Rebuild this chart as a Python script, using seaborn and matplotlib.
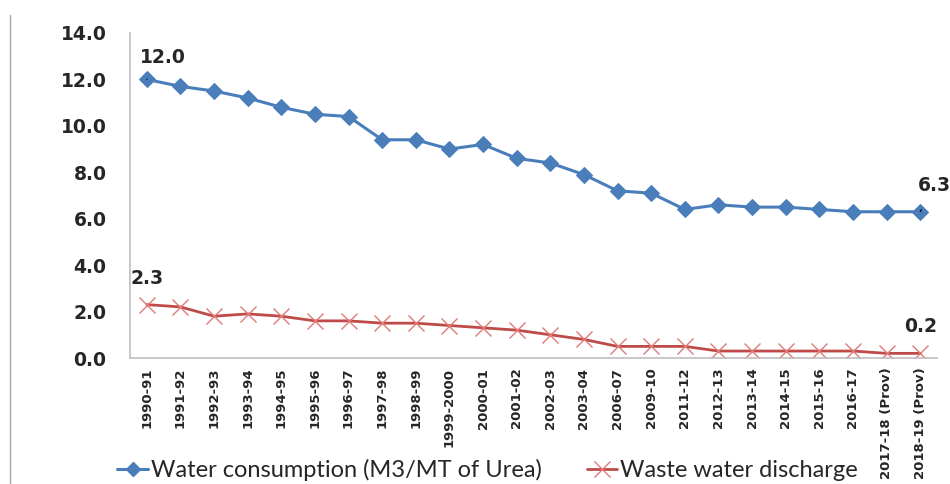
import matplotlib
matplotlib.use("Agg")
import matplotlib.pyplot as plt
import seaborn as sns
import pandas as pd
from matplotlib.lines import Line2D

years = ["1990-91", "1991-92", "1992-93", "1993-94", "1994-95", "1995-96", "1996-97",
         "1997-98", "1998-99", "1999-2000", "2000-01", "2001-02", "2002-03", "2003-04",
         "2006-07", "2009-10", "2011-12", "2012-13", "2013-14", "2014-15", "2015-16",
         "2016-17", "2017-18 (Prov)", "2018-19 (Prov)"]
water_consumption = [12.0, 11.7, 11.5, 11.2, 10.8, 10.5, 10.4, 9.4, 9.4, 9.0, 9.2, 8.6,
                     8.4, 7.9, 7.2, 7.1, 6.4, 6.6, 6.5, 6.5, 6.4, 6.3, 6.3, 6.3]
waste_water = [2.3, 2.2, 1.8, 1.9, 1.8, 1.6, 1.6, 1.5, 1.5, 1.4, 1.3, 1.2,
               1.0, 0.8, 0.5, 0.5, 0.5, 0.3, 0.3, 0.3, 0.3, 0.3, 0.2, 0.2]
y_ticks = [0.0, 2.0, 4.0, 6.0, 8.0, 10.0, 12.0, 14.0]
series_names = ["Water consumption (M3/MT of Urea)", "Waste water discharge"]

BLUE = "#4A7EBB"
RED = "#BE4B48"
FONT = "DejaVu Sans"

sns.set_style("white")
plt.rcParams["font.family"] = [FONT]

idx = list(range(len(years)))
df_w = pd.DataFrame({"x": idx, "y": water_consumption})
df_r = pd.DataFrame({"x": idx, "y": waste_water})

fig = plt.figure(figsize=(9.5, 4.84), dpi=100)
ax = fig.add_axes([130 / 950, 1 - 358 / 484, (937 - 130) / 950, (358 - 33) / 484])

sns.lineplot(data=df_w, x="x", y="y", ax=ax, color=BLUE, linewidth=2.2,
             marker="D", markersize=8, markeredgecolor=BLUE, markerfacecolor=BLUE)
sns.lineplot(data=df_r, x="x", y="y", ax=ax, color=RED, linewidth=2.0,
             marker="x", markersize=12, markeredgewidth=1.0,
             markeredgecolor="#E07A77")

ax.set_xlim(-0.5, len(years) - 0.5)
ax.set_ylim(0, 14)
ax.set_yticks(y_ticks)
ax.set_yticklabels([f"{v:.1f}" for v in y_ticks], fontsize=13.5, fontweight="bold",
                   fontfamily=FONT)
ax.set_xticks(idx)
ax.set_xticklabels(years, rotation=90, fontsize=9.5, fontweight="bold", fontfamily=FONT)
ax.tick_params(axis="both", length=0)
ax.tick_params(axis="y", pad=17)
ax.tick_params(axis="x", pad=7)
ax.set_xlabel("")
ax.set_ylabel("")
for s in ["top", "right"]:
    ax.spines[s].set_visible(False)
for s in ["left", "bottom"]:
    ax.spines[s].set_color("#BFBFBF")
    ax.spines[s].set_linewidth(1.2)
if ax.get_legend():
    ax.get_legend().remove()

lab_kw = dict(fontsize=13.5, fontweight="bold", fontfamily=FONT,
              textcoords="offset pixels", annotation_clip=False)
ax.annotate(f"{water_consumption[0]:.1f}", xy=(0, water_consumption[0]),
            xytext=(16, 22), ha="center", va="center",
            arrowprops=dict(arrowstyle="-", color="black", lw=0.8,
                            shrinkA=8, shrinkB=3), **lab_kw)
ax.annotate(f"{water_consumption[-1]:.1f}", xy=(len(years) - 1, water_consumption[-1]),
            xytext=(14, 26), ha="center", va="center",
            arrowprops=dict(arrowstyle="-", color="black", lw=0.8,
                            shrinkA=9, shrinkB=3), **lab_kw)
ax.annotate(f"{waste_water[0]:.1f}", xy=(0, waste_water[0]),
            xytext=(0, 26), ha="center", va="center", **lab_kw)
ax.annotate(f"{waste_water[-1]:.1f}", xy=(len(years) - 1, waste_water[-1]),
            xytext=(0, 27), ha="center", va="center", **lab_kw)

# left border line of the original image
fig.add_artist(Line2D([10 / 950, 10 / 950], [0, 1 - 15 / 484],
                      transform=fig.transFigure, color="#A6A6A6", lw=1.0))

handles = [
    Line2D([], [], color=BLUE, lw=2.2, marker="D", markersize=7),
    Line2D([], [], color=RED, lw=2.0, marker="x", markersize=11,
           markeredgecolor="#E07A77", markeredgewidth=1.0),
]
fig.legend(handles, series_names, loc="center left", bbox_to_anchor=(96 / 950, 1 - 470 / 484),
           ncol=2, frameon=False, handlelength=1.3, handletextpad=0.12,
           columnspacing=1.9, prop={"family": "Lato", "size": 17})

fig.savefig("out.png", dpi=100)
